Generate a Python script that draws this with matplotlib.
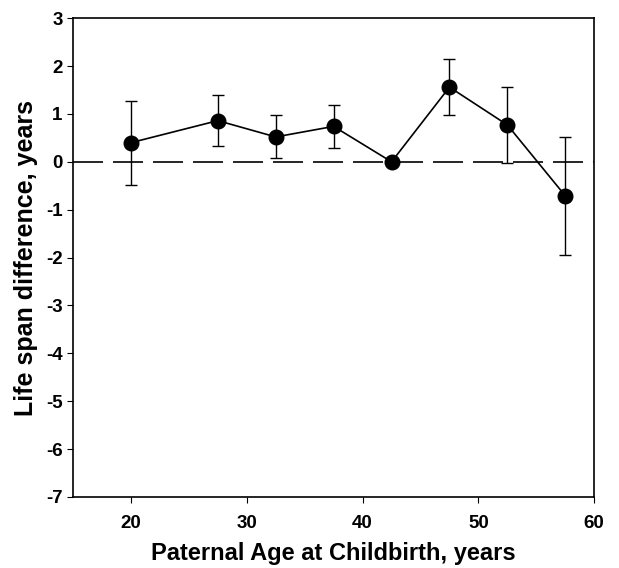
import numpy as np
import matplotlib.pyplot as plt

# 아버지 나이별 수명 차이 데이터
age = [20, 27.5, 32.5, 37.5, 42.5, 47.5, 52.5, 57.5]
diff = [0.40, 0.86, 0.52, 0.74, 0.0, 1.56, 0.77, -0.71]
err = [0.88, 0.53, 0.45, 0.45, 0.0, 0.58, 0.79, 1.23]

plt.rcParams['font.family'] = ['Liberation Sans', 'DejaVu Sans']
plt.rcParams['axes.unicode_minus'] = False

fig = plt.figure(figsize=(6.19, 5.68), dpi=100)
ax = fig.add_axes([0.118, 0.125, 0.842, 0.843])

ax.axhline(0, color='black', lw=1.2, dashes=(18, 6), zorder=1)
ax.errorbar(age, diff, yerr=err, fmt='-o', color='black', ms=10.5, lw=1.2,
            elinewidth=1.0, capsize=4, capthick=1.0, zorder=3)

ax.set_xlim(15, 60)
ax.set_ylim(-7, 3)
ax.set_xticks([20, 30, 40, 50, 60])
ax.set_yticks(np.arange(-7, 4, 1))
ax.tick_params(direction='out', length=4, labelsize=13.5)
ax.tick_params(axis='x', pad=9)
for lab in ax.get_xticklabels() + ax.get_yticklabels():
    lab.set_fontweight('bold')
for s in ax.spines.values():
    s.set_linewidth(1.2)

ax.set_xlabel("Paternal Age at Childbirth, years", fontsize=17, fontweight='bold', labelpad=7)
ax.set_ylabel("Life span difference, years", fontsize=18, fontweight='bold', labelpad=6)

plt.savefig("out.png", dpi=100)
